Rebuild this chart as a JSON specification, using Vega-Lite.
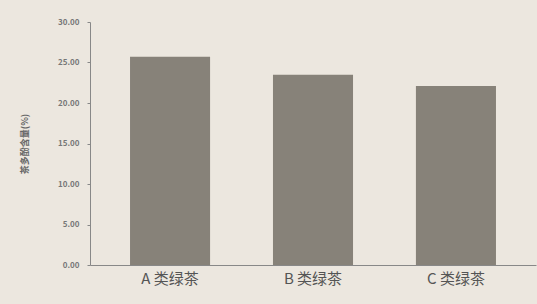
{
  "$schema": "https://vega.github.io/schema/vega-lite/v6.json",
  "autosize": "none",
  "width": 446,
  "height": 243,
  "padding": {"left": 90, "top": 22, "right": 1, "bottom": 39},
  "background": "#ece7df",
  "config": {"view": {"stroke": null}, "font": "Noto Sans CJK SC"},
  "data": {"values": [
    {"category": "A 类绿茶", "value": 25.7},
    {"category": "B 类绿茶", "value": 23.5},
    {"category": "C 类绿茶", "value": 22.1}
  ]},
  "mark": {"type": "bar", "color": "#878279"},
  "encoding": {
    "x": {"field": "category", "type": "nominal", "sort": null,
      "scale": {"paddingInner": 0.44, "paddingOuter": 0.28},
      "axis": {"title": null, "labelAngle": 0, "labelFontSize": 15, "labelColor": "#555", "domainColor": "#888", "ticks": false, "labelPadding": 6}},
    "y": {"field": "value", "type": "quantitative",
      "scale": {"domain": [0, 30]},
      "axis": {"title": "茶多酚含量(%)", "titleFontSize": 9, "titleColor": "#666", "titleFontWeight": "bold", "titlePadding": 28,
        "values": [0, 5, 10, 15, 20, 25, 30], "format": ".2f", "labelFontSize": 8, "labelColor": "#777", "labelFontWeight": "bold",
        "grid": false, "domainColor": "#888", "tickColor": "#888", "tickSize": 3, "labelPadding": 8}}
  }
}
